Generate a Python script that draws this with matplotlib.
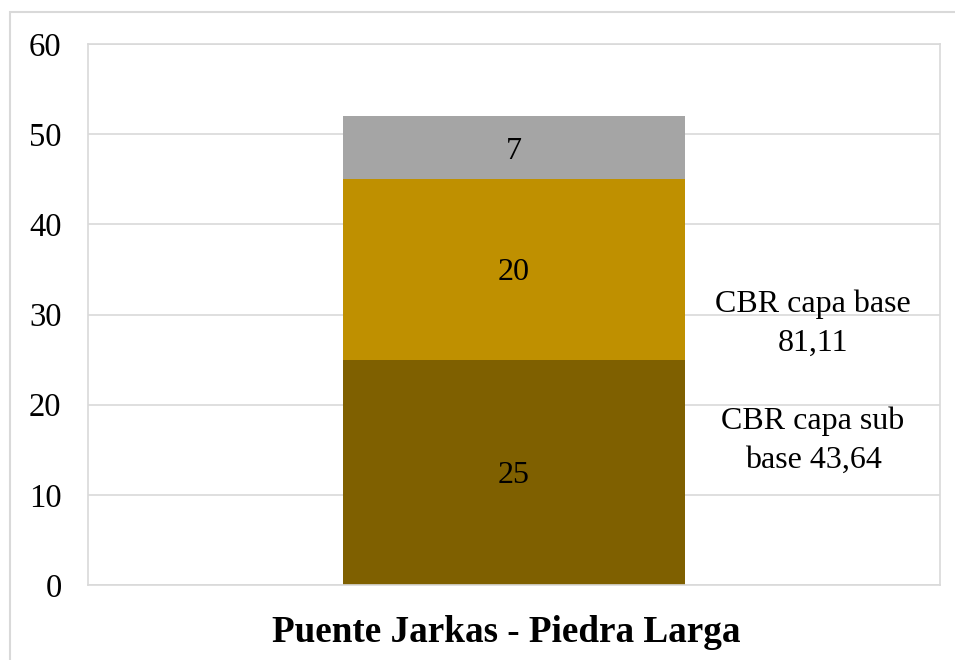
import matplotlib.pyplot as plt
from matplotlib.patches import Rectangle
from matplotlib.transforms import offset_copy

plt.rcParams['font.family'] = ['Liberation Serif', 'DejaVu Serif']

category = "Puente Jarkas - Piedra Larga"
layers = [25, 20, 7]
layer_colors = ['#7F6000', '#BF9000', '#A5A5A5']
notes = ["CBR capa base\n81,11", "CBR capa sub\nbase 43,64"]
note_y = [29.0, 16.0]

fig = plt.figure(figsize=(9.55, 6.6), dpi=100)
ax = fig.add_axes([88 / 955, 1 - 585 / 660, 852 / 955, 541 / 660])

# outer chart frame
fig.patches.append(Rectangle((10 / 955, -0.05), 1.0, 1 - 12 / 660 + 0.05,
                             transform=fig.transFigure, fill=False,
                             edgecolor='#D9D9D9', lw=1.5))

bottom = 0
for val, col in zip(layers, layer_colors):
    ax.bar([0], [val], bottom=bottom, width=0.401, color=col, zorder=2)
    ax.text(0, bottom + val / 2, str(val), ha='center', va='center_baseline',
            fontsize=23, color='black', zorder=3)
    bottom += val

for txt, y in zip(notes, note_y):
    ax.text(0.351, y, txt, ha='center', va='center', fontsize=23,
            linespacing=1.45, zorder=3)

ax.set_xlim(-0.5, 0.5)
ax.set_ylim(0, 60)
ax.set_yticks(range(0, 61, 10))
ax.set_xticks([])
# category name under the bar
ax.text(0, 0, category, fontsize=26.7, fontweight='bold', ha='center', va='center',
        transform=offset_copy(ax.transData, fig=fig, x=-8, y=-48, units='dots'))
ax.tick_params(axis='y', length=0, pad=19, labelsize=23.5)
ax.grid(axis='y', color='#D9D9D9', lw=1.2, zorder=0)
for s in ax.spines.values():
    s.set_color('#D9D9D9')
    s.set_linewidth(1.2)

fig.savefig('out.png', dpi=100)
